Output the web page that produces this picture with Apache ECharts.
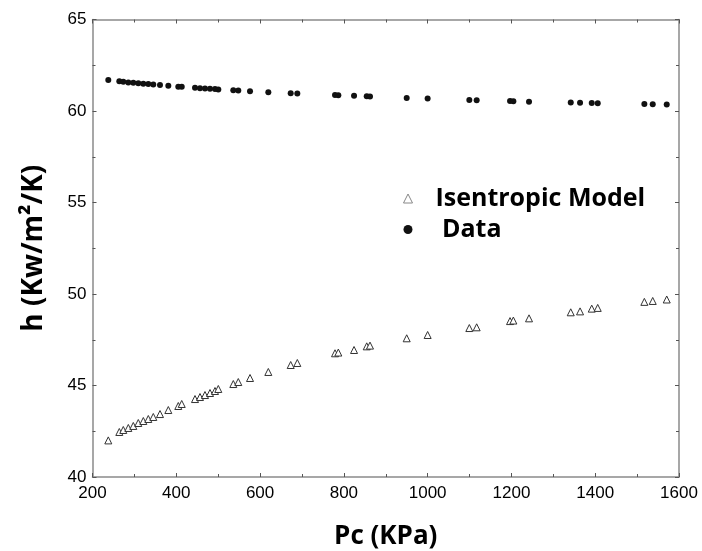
<!DOCTYPE html>
<html>
<head>
<meta charset="utf-8">
<script src="https://cdn.jsdelivr.net/npm/echarts@6/dist/echarts.min.js"></script>
<style>
html,body{margin:0;padding:0;background:#fff;}
#chart{width:702px;height:551px;}
</style>
</head>
<body>
<div id="chart"></div>
<script>
// Condenser pressure Pc (KPa)
var pressure = [237.7, 264, 273.5, 285.5, 297.4, 309.3, 321.3, 333.2, 345.1, 361.1, 381, 404.8, 413, 444.7, 456.6, 468.5, 480.5, 492.4, 500.3, 536.1, 548, 576, 619.7, 673.1, 688.9, 778.9, 786.8, 824.3, 854.6, 862.4, 950, 1000, 1099.5, 1117, 1196.7, 1204.6, 1242, 1341.6, 1363.8, 1391.7, 1406, 1517.3, 1537.3, 1570.7];
// Measured h (Kw/m2/K)
var dataH = [61.7, 61.62, 61.6, 61.56, 61.54, 61.52, 61.49, 61.47, 61.45, 61.42, 61.38, 61.33, 61.32, 61.27, 61.25, 61.23, 61.21, 61.2, 61.18, 61.13, 61.12, 61.08, 61.02, 60.97, 60.95, 60.87, 60.86, 60.83, 60.8, 60.79, 60.71, 60.68, 60.6, 60.59, 60.54, 60.53, 60.51, 60.46, 60.45, 60.44, 60.43, 60.38, 60.37, 60.35];
// Isentropic model h (Kw/m2/K)
var modelH = [42.0, 42.46, 42.57, 42.68, 42.79, 42.95, 43.06, 43.17, 43.28, 43.44, 43.66, 43.88, 43.99, 44.26, 44.37, 44.48, 44.59, 44.7, 44.81, 45.08, 45.19, 45.41, 45.74, 46.12, 46.23, 46.76, 46.8, 46.94, 47.14, 47.18, 47.58, 47.76, 48.14, 48.18, 48.52, 48.55, 48.67, 49.0, 49.05, 49.2, 49.24, 49.57, 49.62, 49.7];
var xTicks = [200, 1600, 200];   // min, max, interval
var yTicks = [40, 65, 5];

function pairs(xs, ys) { return xs.map(function (x, i) { return [x, ys[i]]; }); }

var frameColor = '#8a8a8a';
var labelFont = 'Liberation Sans';
var titleFont = 'Open Sans';

var chart = echarts.init(document.getElementById('chart'), null, {renderer: 'canvas'});
chart.setOption({
  animation: false,
  backgroundColor: '#fff',
  grid: {left: 92.5, right: 23, top: 19.5, bottom: 74, containLabel: false, outerBoundsMode: 'none'},
  legend: {
    orient: 'vertical',
    left: 398,
    top: 181,
    itemWidth: 9,
    itemHeight: 9,
    itemGap: 6,
    data: [
      {name: 'Isentropic Model', icon: 'triangle', itemStyle: {color: '#fff', borderColor: '#888', borderWidth: 1}},
      {name: 'Data', icon: 'circle', itemStyle: {color: '#111'}}
    ],
    formatter: function (n) { return n === 'Data' ? ' ' + n : n; },
    textStyle: {fontFamily: titleFont, fontWeight: 'bold', fontSize: 25, color: '#000', padding: [0, 0, 0, 18]}
  },
  xAxis: [{
    type: 'value', min: xTicks[0], max: xTicks[1], interval: xTicks[2], position: 'bottom',
    name: 'Pc (KPa)', nameLocation: 'middle', nameGap: 47,
    nameTextStyle: {fontFamily: titleFont, fontWeight: 'bold', fontSize: 26, color: '#000'},
    axisLine: {show: true, lineStyle: {color: frameColor, width: 1.5}},
    axisTick: {show: true, inside: true, length: 4, lineStyle: {color: '#555'}},
    minorTick: {show: true, splitNumber: 2, length: 3, lineStyle: {color: '#555'}},
    axisLabel: {fontFamily: labelFont, fontSize: 17, color: '#000', margin: 8,
      formatter: function (v) { return String(v); }},
    splitLine: {show: false}
  }, {
    type: 'value', min: xTicks[0], max: xTicks[1], interval: xTicks[2], position: 'top',
    axisLine: {show: true, lineStyle: {color: frameColor, width: 1.5}},
    axisTick: {show: true, inside: true, length: 4, lineStyle: {color: '#555'}},
    minorTick: {show: true, splitNumber: 2, length: 3, lineStyle: {color: '#555'}},
    axisLabel: {show: false},
    splitLine: {show: false}
  }],
  yAxis: [{
    type: 'value', min: yTicks[0], max: yTicks[1], interval: yTicks[2], position: 'left',
    name: 'h (Kw/m²/K)', nameLocation: 'middle', nameGap: 44,
    nameTextStyle: {fontFamily: titleFont, fontWeight: 'bold', fontSize: 28, color: '#000'},
    axisLine: {show: true, lineStyle: {color: frameColor, width: 1.5}},
    axisTick: {show: true, inside: true, length: 4, lineStyle: {color: '#555'}},
    minorTick: {show: true, splitNumber: 2, length: 3, lineStyle: {color: '#555'}},
    axisLabel: {fontFamily: labelFont, fontSize: 17, color: '#000', margin: 6},
    splitLine: {show: false}
  }, {
    type: 'value', min: yTicks[0], max: yTicks[1], interval: yTicks[2], position: 'right',
    axisLine: {show: true, lineStyle: {color: frameColor, width: 1.5}},
    axisTick: {show: true, inside: true, length: 4, lineStyle: {color: '#555'}},
    minorTick: {show: true, splitNumber: 2, length: 3, lineStyle: {color: '#555'}},
    axisLabel: {show: false},
    splitLine: {show: false}
  }],
  series: [{
    name: 'Isentropic Model',
    type: 'scatter',
    symbol: 'triangle',
    symbolSize: 7,
    itemStyle: {color: '#fff', borderColor: '#333', borderWidth: 1, opacity: 1},
    data: pairs(pressure, modelH)
  }, {
    name: 'Data',
    type: 'scatter',
    symbol: 'circle',
    symbolSize: 6,
    itemStyle: {color: '#111', opacity: 1},
    data: pairs(pressure, dataH)
  }]
});
</script>
</body>
</html>
